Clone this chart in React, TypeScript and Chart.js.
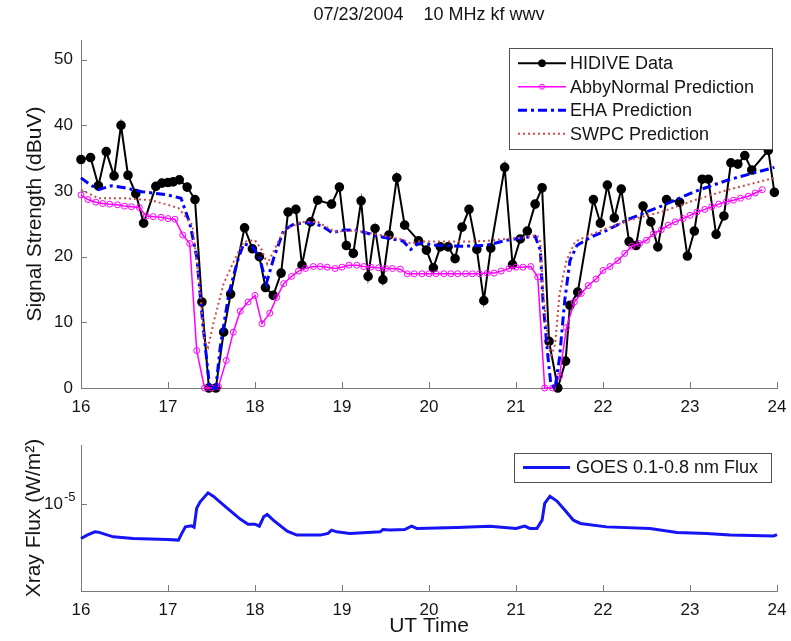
import React, { useEffect, useRef } from "react";
import { Chart, registerables } from "chart.js";

Chart.register(...registerables);

const FONT = "'Liberation Sans', Arial, Helvetica, sans-serif";
const AXIS_GRAY = "#7a7a7a";
const TEXT = "#151515";

const chartTitle = "07/23/2004    10 MHz kf wwv";
const hourTicks = [16, 17, 18, 19, 20, 21, 22, 23, 24];
const signalTicks = [0, 10, 20, 30, 40, 50];
const fluxTicks = [1e-5];
const fluxTickExponents = ["-5"];

const hidiveHours = [16.0, 16.11, 16.2, 16.29, 16.38, 16.46, 16.54, 16.63, 16.72, 16.86, 16.93, 17.0, 17.06, 17.13, 17.22, 17.31, 17.39, 17.47, 17.55, 17.64, 17.72, 17.88, 17.97, 18.05, 18.12, 18.21, 18.3, 18.38, 18.47, 18.54, 18.64, 18.72, 18.88, 18.97, 19.05, 19.13, 19.22, 19.3, 19.38, 19.47, 19.54, 19.63, 19.72, 19.88, 19.97, 20.05, 20.13, 20.22, 20.3, 20.38, 20.46, 20.55, 20.63, 20.71, 20.87, 20.96, 21.05, 21.13, 21.22, 21.3, 21.38, 21.48, 21.57, 21.62, 21.71, 21.89, 21.97, 22.05, 22.13, 22.21, 22.3, 22.38, 22.46, 22.55, 22.63, 22.73, 22.88, 22.97, 23.05, 23.14, 23.21, 23.3, 23.39, 23.47, 23.55, 23.63, 23.71, 23.9, 23.97];
const hidiveValues = [34.8, 35.1, 30.8, 36.0, 32.3, 40.0, 32.4, 29.6, 25.1, 30.7, 31.2, 31.3, 31.4, 31.7, 30.6, 28.7, 13.1, 0, 0, 8.5, 14.3, 24.4, 21.2, 20.0, 15.3, 14.1, 17.5, 26.8, 27.2, 18.7, 25.3, 28.6, 28.0, 30.6, 21.7, 20.5, 28.5, 17.0, 24.3, 16.5, 23.3, 32.0, 24.8, 22.4, 21.0, 18.3, 21.5, 21.5, 19.7, 24.5, 27.2, 21.1, 13.3, 21.3, 33.6, 18.8, 22.7, 23.9, 28.0, 30.5, 7.1, 0, 4.1, 12.6, 14.6, 28.7, 25.1, 30.9, 25.9, 30.3, 22.3, 21.7, 27.7, 25.3, 21.5, 28.7, 28.3, 20.1, 23.9, 31.8, 31.8, 23.4, 26.2, 34.3, 34.1, 35.4, 33.2, 36.2, 29.8];

const abbyHours = [16.0, 16.08, 16.17, 16.25, 16.33, 16.42, 16.5, 16.58, 16.67, 16.75, 16.83, 16.92, 17.0, 17.08, 17.17, 17.25, 17.33, 17.42, 17.5, 17.58, 17.67, 17.75, 17.83, 17.92, 18.0, 18.08, 18.17, 18.25, 18.33, 18.42, 18.5, 18.58, 18.67, 18.75, 18.83, 18.92, 19.0, 19.08, 19.17, 19.25, 19.33, 19.42, 19.5, 19.58, 19.67, 19.75, 19.83, 19.92, 20.0, 20.08, 20.17, 20.25, 20.33, 20.42, 20.5, 20.58, 20.67, 20.75, 20.83, 20.92, 21.0, 21.08, 21.17, 21.25, 21.33, 21.42, 21.5, 21.58, 21.67, 21.75, 21.83, 21.92, 22.0, 22.08, 22.17, 22.25, 22.33, 22.42, 22.5, 22.58, 22.67, 22.75, 22.83, 22.92, 23.0, 23.08, 23.17, 23.25, 23.33, 23.42, 23.5, 23.58, 23.67, 23.75, 23.83];
const abbyValues = [29.4, 28.7, 28.3, 28.1, 28.0, 27.9, 27.7, 27.6, 27.5, 26.2, 26.1, 26.0, 25.8, 25.7, 23.3, 22.0, 5.7, 0, 0, 0.2, 4.2, 8.5, 11.7, 13.1, 14.1, 9.8, 11.4, 13.8, 15.9, 17.0, 17.8, 18.2, 18.5, 18.5, 18.4, 18.2, 18.4, 18.7, 18.7, 18.5, 18.4, 18.3, 18.2, 18.2, 18.1, 17.4, 17.4, 17.4, 17.4, 17.4, 17.4, 17.4, 17.4, 17.4, 17.4, 17.4, 17.5, 17.5, 17.8, 18.2, 18.4, 18.4, 18.5, 16.9, 0, 0, 1.8, 9.2, 13.1, 14.4, 15.6, 16.6, 17.9, 18.5, 19.4, 20.5, 21.6, 22.0, 22.5, 23.5, 24.1, 24.8, 25.3, 25.8, 26.3, 26.8, 27.2, 27.6, 28.0, 28.4, 28.6, 28.9, 29.2, 29.7, 30.2];

const ehaHours = [16.0, 16.1, 16.2, 16.35, 16.5, 16.7, 17.0, 17.15, 17.25, 17.33, 17.4, 17.48, 17.55, 17.6, 17.7, 17.8, 17.87, 17.97, 18.05, 18.13, 18.22, 18.33, 18.45, 18.62, 18.77, 18.89, 18.98, 19.14, 19.23, 19.42, 19.61, 19.7, 19.79, 19.88, 20.11, 20.38, 20.65, 20.89, 21.08, 21.22, 21.28, 21.31, 21.36, 21.4, 21.45, 21.5, 21.56, 21.62, 21.7, 21.85, 22.04, 22.31, 22.67, 23.05, 23.44, 23.97];
const ehaValues = [32.0, 31.0, 30.2, 30.8, 30.5, 29.9, 29.4, 28.9, 25.1, 20.0, 9.8, 0, 0, 6.2, 14.4, 19.4, 22.0, 21.5, 20.0, 15.9, 20.0, 24.0, 25.0, 25.2, 24.7, 23.6, 24.0, 24.1, 23.8, 23.1, 22.6, 22.4, 21.1, 22.1, 21.7, 21.6, 21.7, 22.5, 22.9, 23.1, 21.0, 13.3, 5.7, 0.6, 0, 4.6, 13.3, 19.4, 21.7, 22.9, 24.0, 25.8, 27.7, 29.9, 31.7, 33.6];

const swpcHours = [16.0, 16.2, 16.5, 16.8, 17.0, 17.12, 17.19, 17.28, 17.36, 17.42, 17.46, 17.53, 17.64, 17.76, 17.87, 18.0, 18.08, 18.14, 18.22, 18.33, 18.53, 18.72, 18.92, 19.14, 19.4, 19.7, 19.79, 19.88, 20.11, 20.4, 20.65, 20.89, 21.08, 21.24, 21.28, 21.31, 21.36, 21.4, 21.45, 21.5, 21.58, 21.68, 21.85, 22.04, 22.31, 22.67, 23.05, 23.44, 23.97];
const swpcValues = [30.2, 28.9, 28.9, 28.6, 27.9, 27.4, 26.3, 24.8, 15.9, 7.2, 6.2, 10.3, 15.9, 19.4, 22.3, 22.5, 21.0, 18.9, 21.0, 24.0, 25.3, 25.3, 23.8, 24.0, 23.4, 22.6, 22.0, 22.3, 22.3, 22.3, 22.4, 22.7, 22.9, 23.3, 22.3, 14.8, 8.2, 4.6, 6.7, 14.3, 19.4, 22.3, 23.3, 24.3, 25.6, 26.8, 28.6, 30.2, 32.0];

const goesHours = [16.0, 16.07, 16.16, 16.2, 16.37, 16.6, 16.99, 17.12, 17.16, 17.2, 17.27, 17.3, 17.33, 17.37, 17.46, 17.52, 17.68, 17.83, 17.92, 18.0, 18.05, 18.1, 18.14, 18.21, 18.37, 18.48, 18.75, 18.84, 18.88, 18.94, 19.09, 19.44, 19.47, 19.55, 19.72, 19.8, 19.86, 20.32, 20.7, 21.0, 21.1, 21.16, 21.24, 21.3, 21.33, 21.39, 21.47, 21.56, 21.66, 21.74, 22.04, 22.54, 22.85, 23.19, 23.46, 23.96, 24.0];
const goesFlux = [5.3e-6, 5.64e-6, 5.99e-6, 5.96e-6, 5.46e-6, 5.3e-6, 5.21e-6, 5.14e-6, 5.85e-6, 6.57e-6, 6.7e-6, 6.54e-6, 9.3e-6, 1.045e-5, 1.235e-5, 1.16e-5, 9.3e-6, 7.59e-6, 6.91e-6, 6.91e-6, 6.66e-6, 7.91e-6, 8.28e-6, 7.44e-6, 6.07e-6, 5.64e-6, 5.64e-6, 5.82e-6, 6.18e-6, 5.99e-6, 5.82e-6, 5.99e-6, 6.26e-6, 6.2e-6, 6.26e-6, 6.66e-6, 6.38e-6, 6.5e-6, 6.66e-6, 6.38e-6, 6.66e-6, 6.38e-6, 6.38e-6, 7.44e-6, 1.015e-5, 1.16e-5, 1.06e-5, 8.97e-6, 7.44e-6, 7.0e-6, 6.57e-6, 6.38e-6, 5.93e-6, 5.82e-6, 5.64e-6, 5.55e-6, 5.7e-6];

const pts = (xs: number[], ys: number[]) => xs.map((x, i) => ({ x, y: ys[i] }));

const inwardTicks = {
  id: "inwardTicks",
  afterDraw(chart: any) {
    const { ctx, chartArea, scales } = chart;
    ctx.save();
    ctx.strokeStyle = AXIS_GRAY;
    ctx.lineWidth = 1;
    ctx.setLineDash([]);
    scales.x.ticks.forEach((t: any) => {
      const px = Math.round(scales.x.getPixelForValue(t.value)) + 0.5;
      ctx.beginPath();
      ctx.moveTo(px, chartArea.bottom);
      ctx.lineTo(px, chartArea.bottom - 6);
      ctx.stroke();
    });
    scales.y.ticks.forEach((t: any) => {
      const py = Math.round(scales.y.getPixelForValue(t.value)) + 0.5;
      ctx.beginPath();
      ctx.moveTo(chartArea.left, py);
      ctx.lineTo(chartArea.left + 6, py);
      ctx.stroke();
    });
    ctx.restore();
  },
};

// Draws the superscript exponent next to the "10" tick label of a log axis
const expLabels = {
  id: "expLabels",
  afterDraw(chart: any, _args: any, opts: any) {
    if (!opts || !opts.exponents) return;
    const { ctx, chartArea, scales } = chart;
    ctx.save();
    ctx.fillStyle = TEXT;
    ctx.font = `13px ${FONT}`;
    ctx.textAlign = "left";
    ctx.textBaseline = "alphabetic";
    scales.y.ticks.forEach((t: any, i: number) => {
      const py = scales.y.getPixelForValue(t.value);
      ctx.fillText(opts.exponents[i] || "", chartArea.left - opts.gap, py - 3);
    });
    ctx.restore();
  },
};

const boxLegend = {
  id: "boxLegend",
  afterDraw(chart: any, _args: any, opts: any) {
    if (!opts || !opts.display) return;
    const { ctx, chartArea } = chart;
    const items = chart.data.datasets;
    const x0 = Math.round(chartArea.right - opts.offsetRight - opts.width);
    const y0 = Math.round(chartArea.top + opts.offsetTop);
    const h = opts.padY * 2 + opts.rowH * items.length;
    ctx.save();
    ctx.fillStyle = "#ffffff";
    ctx.fillRect(x0, y0, opts.width, h);
    ctx.strokeStyle = "#505050";
    ctx.lineWidth = 1;
    ctx.strokeRect(x0 + 0.5, y0 + 0.5, opts.width, h);
    items.forEach((ds: any, i: number) => {
      const cy = y0 + opts.padY + opts.rowH * (i + 0.5);
      const xa = x0 + opts.sampleStart;
      const xb = x0 + opts.sampleEnd;
      ctx.strokeStyle = ds.borderColor;
      ctx.lineWidth = ds.borderWidth;
      ctx.setLineDash(ds.borderDash || []);
      ctx.beginPath();
      ctx.moveTo(xa, cy);
      ctx.lineTo(xb, cy);
      ctx.stroke();
      ctx.setLineDash([]);
      if (ds.pointRadius > 0) {
        ctx.beginPath();
        ctx.arc((xa + xb) / 2, cy, ds.legendMarker || ds.pointRadius, 0, Math.PI * 2);
        ctx.fillStyle = ds.pointBackgroundColor;
        ctx.fill();
        ctx.lineWidth = 1;
        ctx.strokeStyle = ds.pointBorderColor;
        ctx.stroke();
      }
      ctx.fillStyle = TEXT;
      ctx.font = `${opts.fontSize}px ${FONT}`;
      ctx.textAlign = "left";
      ctx.textBaseline = "middle";
      ctx.fillText(ds.label, x0 + opts.textX, cy + 1);
    });
    ctx.restore();
  },
};

const topTitle = {
  id: "topTitle",
  afterDraw(chart: any, _args: any, opts: any) {
    if (!opts || !opts.text) return;
    const { ctx, chartArea } = chart;
    ctx.save();
    ctx.fillStyle = TEXT;
    ctx.font = `18px ${FONT}`;
    ctx.textAlign = "center";
    ctx.textBaseline = "middle";
    ctx.fillText(opts.text, (chartArea.left + chartArea.right) / 2, opts.y);
    ctx.restore();
  },
};

const xScale = (height: number, withTitle: boolean) => ({
  type: "linear",
  min: 16,
  max: 24,
  afterFit: (s: any) => {
    s.height = height;
    s.paddingLeft = 0;
    s.paddingRight = 0;
  },
  afterBuildTicks: (s: any) => {
    s.ticks = hourTicks.map((v) => ({ value: v }));
  },
  grid: { display: false, drawTicks: false },
  border: { display: true, color: AXIS_GRAY, width: 1 },
  ticks: {
    font: { family: FONT, size: 17 },
    color: TEXT,
    padding: 9,
    maxRotation: 0,
    autoSkip: false,
  },
  title: withTitle
    ? {
        display: true,
        text: "UT Time",
        font: { family: FONT, size: 21 },
        color: TEXT,
        padding: { top: 0, bottom: 2 },
      }
    : { display: false },
});

const yFit = (s: any) => {
  s.width = 81;
  s.paddingTop = 0;
  s.paddingBottom = 0;
};

function TopChart() {
  const ref = useRef<HTMLCanvasElement | null>(null);
  useEffect(() => {
    if (!ref.current) return;
    const chart = new Chart(ref.current, {
      type: "line",
      data: {
        datasets: [
          {
            label: "HIDIVE Data",
            data: pts(hidiveHours, hidiveValues),
            borderColor: "#000000",
            borderWidth: 2,
            pointRadius: 3.8,
            pointBackgroundColor: "#000000",
            pointBorderColor: "#000000",
            legendMarker: 3.5,
            order: 4,
            clip: false,
          } as any,
          {
            label: "AbbyNormal Prediction",
            data: pts(abbyHours, abbyValues),
            borderColor: "#ff00ff",
            borderWidth: 1.5,
            pointRadius: 3,
            pointBorderWidth: 1,
            pointBackgroundColor: "rgba(255,255,255,0)",
            pointBorderColor: "#ff00ff",
            legendMarker: 2.5,
            order: 3,
            clip: false,
          } as any,
          {
            label: "EHA Prediction",
            data: pts(ehaHours, ehaValues),
            borderColor: "#0000ff",
            borderWidth: 3,
            borderDash: [9, 4, 3, 4],
            pointRadius: 0,
            order: 2,
            clip: false,
          } as any,
          {
            label: "SWPC Prediction",
            data: pts(swpcHours, swpcValues),
            borderColor: "#d04a4a",
            borderWidth: 2,
            borderDash: [2, 3],
            pointRadius: 0,
            order: 1,
            clip: false,
          } as any,
        ],
      },
      options: {
        animation: false,
        responsive: false,
        layout: { padding: { left: 0, right: 14, top: 40, bottom: 0 } },
        elements: { line: { tension: 0 } },
        scales: {
          x: xScale(32, false) as any,
          y: {
            type: "linear",
            min: 0,
            max: 53,
            afterFit: yFit,
            afterBuildTicks: (s: any) => {
              s.ticks = signalTicks.map((v) => ({ value: v }));
            },
            grid: { display: false, drawTicks: false },
            border: { display: true, color: AXIS_GRAY, width: 1 },
            ticks: { font: { family: FONT, size: 17 }, color: TEXT, padding: 8 },
            title: {
              display: true,
              text: "Signal Strength (dBuV)",
              font: { family: FONT, size: 21 },
              color: TEXT,
              padding: { top: 23, bottom: 0 },
            },
          },
        },
        plugins: {
          legend: { display: false },
          tooltip: { enabled: false },
          topTitle: { text: chartTitle, y: 15 },
          boxLegend: {
            display: true,
            width: 263,
            offsetRight: 5,
            offsetTop: 8,
            rowH: 23.5,
            padY: 3.5,
            sampleStart: 9,
            sampleEnd: 57,
            textX: 61,
            fontSize: 18,
          },
        } as any,
      },
      plugins: [inwardTicks, boxLegend, topTitle],
    } as any);
    return () => chart.destroy();
  }, []);
  return (
    <canvas
      ref={ref}
      width={791}
      height={420}
      style={{ position: "absolute", left: 0, top: 0, width: 791, height: 420, display: "block" }}
    />
  );
}

function BottomChart() {
  const ref = useRef<HTMLCanvasElement | null>(null);
  useEffect(() => {
    if (!ref.current) return;
    const chart = new Chart(ref.current, {
      type: "line",
      data: {
        datasets: [
          {
            label: "GOES 0.1-0.8 nm Flux",
            data: pts(goesHours, goesFlux),
            borderColor: "#1414f5",
            borderWidth: 3,
            pointRadius: 0,
            clip: false,
          } as any,
        ],
      },
      options: {
        animation: false,
        responsive: false,
        layout: { padding: { left: 0, right: 14, top: 25, bottom: 0 } },
        elements: { line: { tension: 0 } },
        scales: {
          x: xScale(50, true) as any,
          y: {
            type: "logarithmic",
            min: 2e-6,
            max: 3e-5,
            afterFit: yFit,
            afterBuildTicks: (s: any) => {
              s.ticks = fluxTicks.map((v) => ({ value: v }));
            },
            grid: { display: false, drawTicks: false },
            border: { display: true, color: AXIS_GRAY, width: 1 },
            ticks: {
              font: { family: FONT, size: 17 },
              color: TEXT,
              padding: 18,
              callback: () => "10",
            },
            title: {
              display: true,
              text: "Xray Flux (W/m\u00B2)",
              font: { family: FONT, size: 21 },
              color: TEXT,
              padding: { top: 22, bottom: 0 },
            },
          },
        },
        plugins: {
          legend: { display: false },
          tooltip: { enabled: false },
          expLabels: { exponents: fluxTickExponents, gap: 17 },
          boxLegend: {
            display: true,
            width: 257,
            offsetRight: 6,
            offsetTop: 8,
            rowH: 29,
            padY: 0,
            sampleStart: 9,
            sampleEnd: 56,
            textX: 62,
            fontSize: 18,
          },
        } as any,
      },
      plugins: [inwardTicks, boxLegend, expLabels],
    } as any);
    return () => chart.destroy();
  }, []);
  return (
    <canvas
      ref={ref}
      width={791}
      height={221}
      style={{ position: "absolute", left: 0, top: 420, width: 791, height: 221, display: "block" }}
    />
  );
}

export default function App() {
  return (
    <div style={{ position: "absolute", left: 0, top: 0, width: 791, height: 641, background: "#ffffff" }}>
      <TopChart />
      <BottomChart />
    </div>
  );
}
